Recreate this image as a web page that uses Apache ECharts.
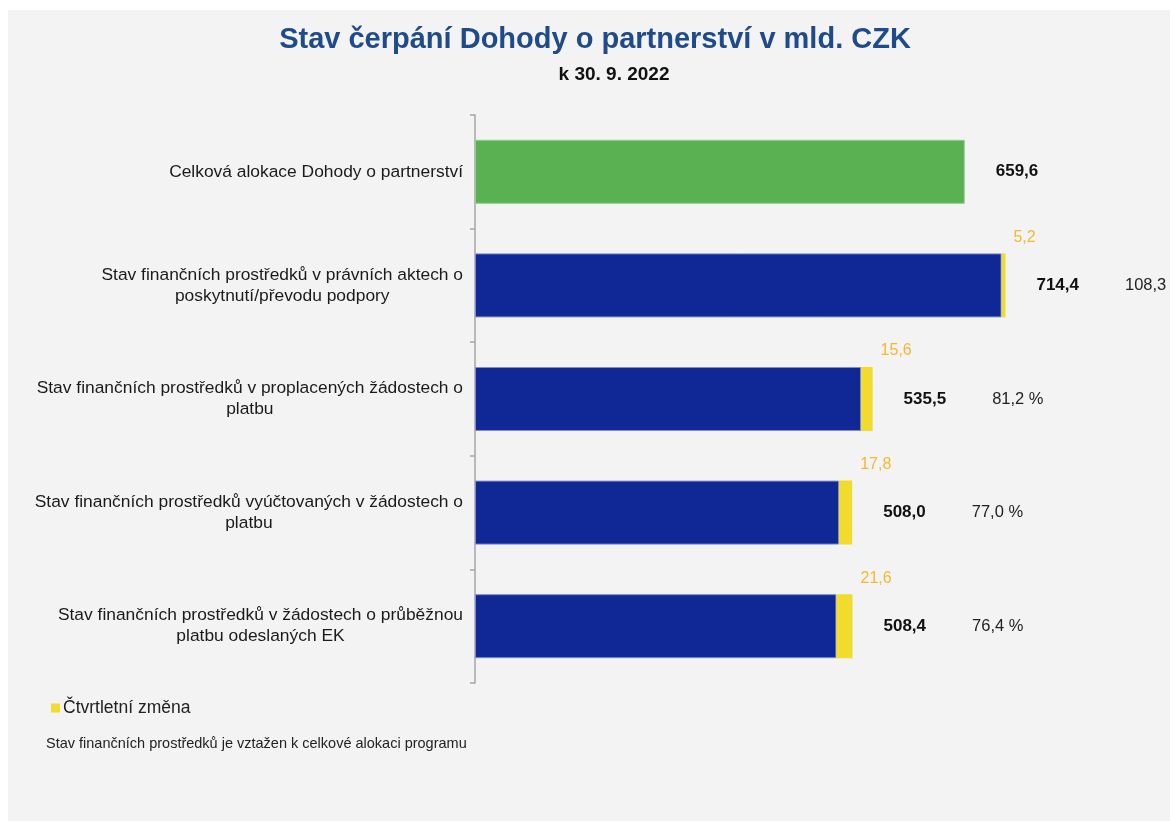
<!DOCTYPE html>
<html>
<head>
<meta charset="utf-8">
<script src="https://cdn.jsdelivr.net/npm/echarts@6/dist/echarts.min.js"></script>
<style>
  html, body { margin: 0; padding: 0; background: #fff; }
  #chart { width: 1170px; height: 821px; }
</style>
</head>
<body>
<div id="chart"></div>
<script>
// kategorie (shora dolů)
var categories = [
  'Celková alokace Dohody o partnerství',
  'Stav finančních prostředků v právních aktech o\nposkytnutí/převodu podpory',
  'Stav finančních prostředků v proplacených žádostech o\nplatbu',
  'Stav finančních prostředků vyúčtovaných v žádostech o\nplatbu',
  'Stav finančních prostředků v žádostech o průběžnou\nplatbu odeslaných EK'
];
// celkový stav v mld. CZK
var totals = [659.6, 714.4, 535.5, 508.0, 508.4];
// čtvrtletní změna
var changes = [null, 5.2, 15.6, 17.8, 21.6];
// podíl na celkové alokaci (%)
var shares = [null, 108.3, 81.2, 77.0, 76.4];

function fmt(v) {
  return v.toFixed(1).replace('.', ',');
}

// spodní část sloupce = stav bez čtvrtletní změny
var baseData = totals.map(function (t, i) {
  var v = changes[i] == null ? t : +(t - changes[i]).toFixed(1);
  if (i === 0) {
    return { value: v, itemStyle: { color: '#5ab152', borderColor: '#8fcf88' } };
  }
  return v;
});

var chart = echarts.init(document.getElementById('chart'));

var option = {
  animation: false,
  textStyle: { fontFamily: 'Liberation Sans, Arial, sans-serif' },
  graphic: [
    {
      type: 'rect', z: -10, silent: true,
      shape: { x: 8, y: 10, width: 1162, height: 811 },
      style: { fill: '#f3f3f3' }
    },
    {
      type: 'text', x: 595, y: 40,
      style: {
        text: 'Stav čerpání Dohody o partnerství v mld. CZK',
        align: 'center', verticalAlign: 'middle',
        font: 'bold 29px Liberation Sans, Arial, sans-serif',
        fill: '#1f4b8b'
      }
    },
    {
      type: 'text', x: 614, y: 75,
      style: {
        text: 'k 30. 9. 2022',
        align: 'center', verticalAlign: 'middle',
        font: 'bold 19px Liberation Sans, Arial, sans-serif',
        fill: '#111'
      }
    },
    {
      type: 'text', x: 46, y: 744,
      style: {
        text: 'Stav finančních prostředků je vztažen k celkové alokaci programu',
        verticalAlign: 'middle',
        font: '14.5px Liberation Sans, Arial, sans-serif',
        fill: '#222'
      }
    }
  ],
  legend: {
    data: ['Čtvrtletní změna'],
    left: 46,
    top: 694,
    icon: 'rect',
    itemWidth: 9,
    itemHeight: 9,
    itemGap: 4,
    textStyle: { fontSize: 17.5, color: '#222', padding: [0, 0, 0, -2] }
  },
  grid: { left: 475, top: 115, width: 594, height: 568 },
  xAxis: {
    type: 'value',
    min: 0,
    max: 800,
    show: false
  },
  yAxis: {
    type: 'category',
    inverse: true,
    data: categories,
    axisLine: { show: true, lineStyle: { color: '#a6a6a6', width: 1.5 } },
    axisTick: { show: true, length: 5, lineStyle: { color: '#a6a6a6', width: 1.5 } },
    axisLabel: {
      margin: 12,
      align: 'right',
      formatter: function (v) { return '{c|' + v + '}'; },
      rich: {
        c: { align: 'center', fontSize: 17.4, lineHeight: 21, color: '#1a1a1a' }
      }
    }
  },
  series: [
    {
      name: 'Stav',
      type: 'bar',
      stack: 'a',
      barWidth: 64,
      itemStyle: { color: '#0f2896', borderColor: '#7e8bd0', borderWidth: 1 },
      data: baseData
    },
    {
      name: 'Čtvrtletní změna',
      type: 'bar',
      stack: 'a',
      barWidth: 64,
      itemStyle: { color: '#f1db2c' },
      label: {
        show: true,
        position: ['100%', -8],
        offset: [8, 0],
        align: 'left',
        verticalAlign: 'bottom',
        color: '#f5b72f',
        fontSize: 16,
        formatter: function (p) { return p.value == null ? '' : fmt(p.value); }
      },
      data: changes
    },
    {
      // neviditelná vrstva pro popisky celkové hodnoty a podílu
      name: 'popisky',
      type: 'bar',
      barWidth: 64,
      barGap: '-100%',
      silent: true,
      z: 1,
      itemStyle: { color: 'rgba(0,0,0,0)' },
      label: {
        show: true,
        position: 'right',
        distance: 31,
        formatter: function (p) {
          var s = '{v|' + fmt(p.value) + '}';
          if (shares[p.dataIndex] != null) {
            s += '{p|' + fmt(shares[p.dataIndex]) + ' %}';
          }
          return s;
        },
        rich: {
          v: { fontSize: 17, fontWeight: 'bold', color: '#111' },
          p: { fontSize: 16.5, color: '#222', padding: [0, 0, 0, 46] }
        }
      },
      data: totals
    }
  ]
};

chart.setOption(option);
</script>
</body>
</html>
